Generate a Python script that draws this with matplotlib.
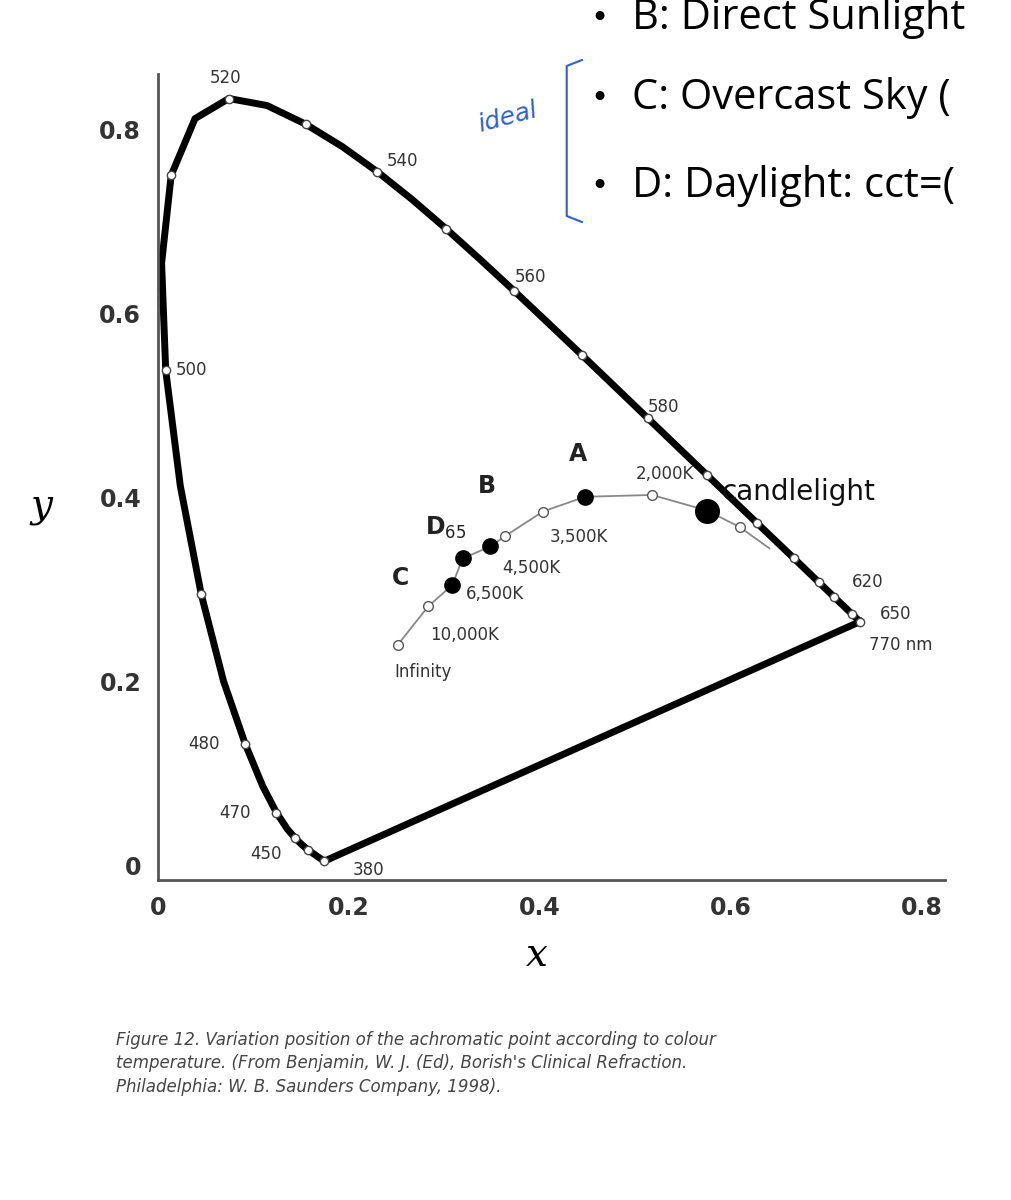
import matplotlib.pyplot as plt

# spectral locus (CIE 1931), nm -> (x, y)
wl = [380, 450, 455, 460, 465, 470, 475, 480, 485, 490, 495, 500, 505, 510, 515, 520, 525, 530,
      535, 540, 545, 550, 555, 560, 565, 570, 575, 580, 585, 590, 595, 600, 610, 620, 630, 650, 700]
lx = [0.1741, 0.1566, 0.1510, 0.1440, 0.1355, 0.1241, 0.1096, 0.0913, 0.0687, 0.0454, 0.0235,
      0.0082, 0.0039, 0.0139, 0.0389, 0.0743, 0.1142, 0.1547, 0.1929, 0.2296, 0.2658, 0.3016,
      0.3373, 0.3731, 0.4087, 0.4441, 0.4788, 0.5125, 0.5448, 0.5752, 0.6029, 0.6270, 0.6658,
      0.6915, 0.7079, 0.7260, 0.7347]
ly = [0.0050, 0.0177, 0.0227, 0.0297, 0.0399, 0.0578, 0.0868, 0.1327, 0.2007, 0.2950, 0.4127,
      0.5384, 0.6548, 0.7502, 0.8120, 0.8338, 0.8262, 0.8059, 0.7816, 0.7543, 0.7243, 0.6923,
      0.6589, 0.6245, 0.5896, 0.5547, 0.5202, 0.4866, 0.4544, 0.4242, 0.3965, 0.3725, 0.3340,
      0.3083, 0.2920, 0.2740, 0.2653]
marked = [380, 450, 460, 470, 480, 490, 500, 510, 520, 530, 540, 550, 560, 570, 580, 590,
          600, 610, 620, 630, 650, 700]
wl_labels = {380: "380", 450: "450", 470: "470", 480: "480", 500: "500", 520: "520",
             540: "540", 560: "560", 580: "580", 620: "620", 650: "650", 700: "770 nm"}

# blackbody locus
bx = [0.251, 0.283, 0.308, 0.319, 0.348, 0.363, 0.403, 0.447, 0.517, 0.575, 0.609, 0.64]
by = [0.240, 0.282, 0.305, 0.334, 0.347, 0.358, 0.385, 0.401, 0.403, 0.386, 0.368, 0.345]
hollow = [0, 1, 5, 6, 8, 10]
filled = {2: "C", 3: "D", 4: "B", 7: "A"}

fig = plt.figure(figsize=(10.12, 12), dpi=100)
ax = fig.add_axes([0.156, 0.267, 0.778, 0.671])
ax.set_xlim(0, 0.824)
ax.set_ylim(-0.015, 0.86)

ax.plot(lx, ly, color="black", lw=5, solid_capstyle="round", solid_joinstyle="round", zorder=2)
ax.plot([lx[-1], lx[0]], [ly[-1], ly[0]], color="black", lw=5, zorder=2)
mx = [lx[wl.index(w)] for w in marked]
my = [ly[wl.index(w)] for w in marked]
ax.plot(mx, my, "o", ms=6, mfc="white", mec="#444", mew=1, zorder=3)
offs = {380: (0.03, -0.01), 450: (-0.06, -0.005), 470: (-0.06, 0.0), 480: (-0.06, 0.0),
        500: (0.01, 0.0), 520: (-0.02, 0.022), 540: (0.01, 0.012), 560: (0.0, 0.015),
        580: (0.0, 0.012), 620: (0.035, 0.0), 650: (0.03, 0.0), 700: (0.01, -0.025)}
for w, t in wl_labels.items():
    i = wl.index(w)
    dx, dy = offs[w]
    ax.text(lx[i] + dx, ly[i] + dy, t, fontsize=12, color="#333", ha="left", va="center")

ax.plot(bx, by, color="#888", lw=1.3, zorder=2)
ax.plot([bx[i] for i in hollow], [by[i] for i in hollow], "o", ms=7, mfc="white", mec="#555", zorder=3)
for i, t in filled.items():
    ax.plot(bx[i], by[i], "o", ms=11, color="black", zorder=4)
ax.plot(bx[9], by[9], "o", ms=17, color="black", zorder=4)
ax.text(0.28, 0.36, "D$_{65}$", fontsize=17, fontweight="bold", color="#222")
ax.text(0.245, 0.305, "C", fontsize=17, fontweight="bold", color="#222")
ax.text(0.335, 0.405, "B", fontsize=17, fontweight="bold", color="#222")
ax.text(0.43, 0.44, "A", fontsize=17, fontweight="bold", color="#222")
for x, y, t in [(0.247, 0.205, "Infinity"), (0.285, 0.245, "10,000K"), (0.322, 0.29, "6,500K"),
                (0.36, 0.318, "4,500K"), (0.41, 0.352, "3,500K"), (0.5, 0.42, "2,000K")]:
    ax.text(x, y, t, fontsize=12, color="#333")
ax.text(0.59, 0.398, "candlelight", fontsize=20, color="#111")

for s in ["top", "right"]:
    ax.spines[s].set_visible(False)
for s in ["left", "bottom"]:
    ax.spines[s].set_linewidth(2)
    ax.spines[s].set_color("#555")
ax.set_xticks([0, 0.2, 0.4, 0.6, 0.8])
ax.set_xticklabels(["0", "0.2", "0.4", "0.6", "0.8"])
ax.set_yticks([0, 0.2, 0.4, 0.6, 0.8])
ax.set_yticklabels(["0", "0.2", "0.4", "0.6", "0.8"])
ax.tick_params(length=0, labelsize=17, pad=12, colors="#333")
for lab in ax.get_xticklabels() + ax.get_yticklabels():
    lab.set_fontweight("bold")
fig.text(0.53, 0.195, "x", fontsize=28, style="italic", family="DejaVu Serif", ha="center")
fig.text(0.03, 0.578, "y", fontsize=28, style="italic", family="DejaVu Serif", va="center")

# slide text overlay
for y, t in [(0.985, "B: Direct Sunlight"), (0.918, "C: Overcast Sky ("), (0.845, "D: Daylight: cct=(")]:
    fig.text(0.583, y, "\u2022", fontsize=22, va="center")
    fig.text(0.625, y, t, fontsize=30, va="center", family="Open Sans")
fig.text(0.47, 0.89, "ideal", fontsize=18, color="#3060d0", rotation=15, style="italic")
fig.lines.append(plt.Line2D([0.575, 0.56, 0.56, 0.575], [0.95, 0.945, 0.82, 0.815],
                            transform=fig.transFigure, color="#3060d0", lw=1.5))

fig.text(0.115, 0.09, "Figure 12. Variation position of the achromatic point according to colour\n"
         "temperature. (From Benjamin, W. J. (Ed), Borish's Clinical Refraction.\n"
         "Philadelphia: W. B. Saunders Company, 1998).",
         fontsize=12, style="italic", color="#444", linespacing=1.4)

fig.savefig("out.png")
